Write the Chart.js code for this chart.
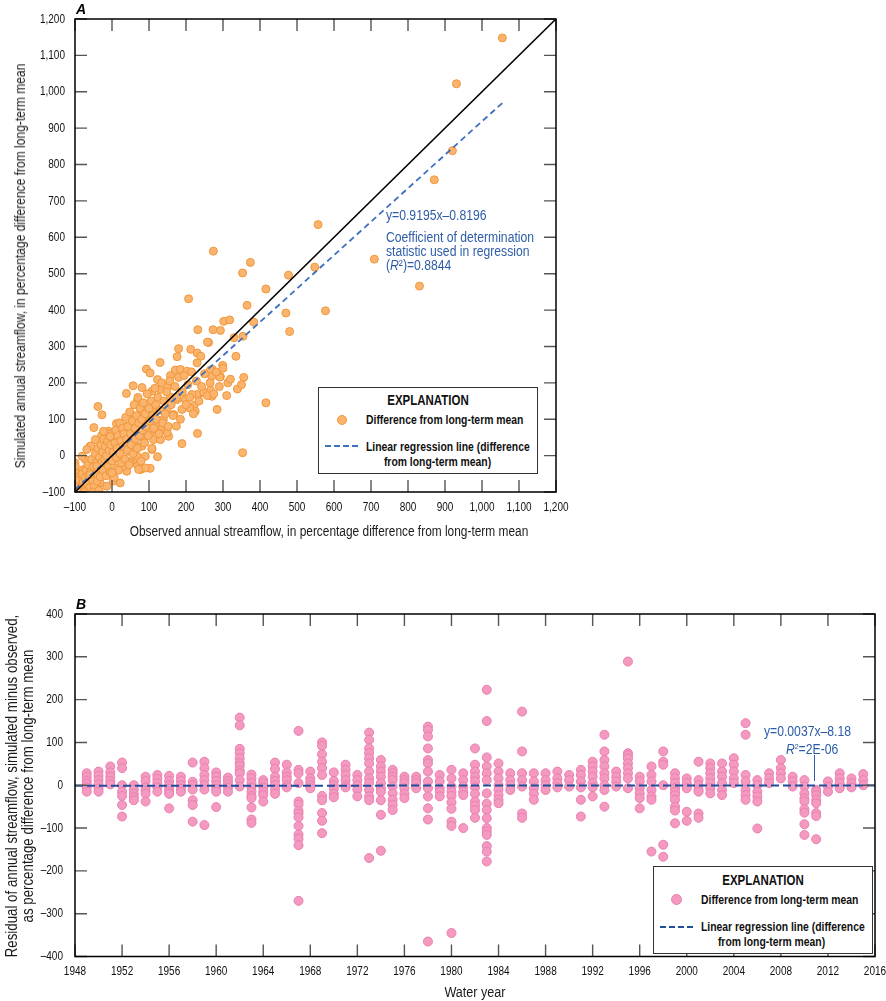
<!DOCTYPE html>
<html><head><meta charset="utf-8">
<script src="https://cdn.jsdelivr.net/npm/chart.js@4.4.1/dist/chart.umd.min.js"></script>
<style>
body{margin:0;background:#fff;}
#wrap{position:relative;width:886px;height:1001px;overflow:hidden;font-family:'Liberation Sans',Arial,sans-serif;}
canvas{position:absolute;left:0;}
.t{position:absolute;white-space:nowrap;line-height:1;color:#1a1a1a;}
.pl{position:absolute;font:bold italic 14px 'Liberation Sans',Arial,sans-serif;color:#000;}
.ann{position:absolute;color:#2E5DA8;font-size:14px;line-height:14px;white-space:nowrap;transform-origin:left center;transform:scaleX(0.87);}
.box{position:absolute;border:1.5px solid #333;background:#fff;box-sizing:border-box;}
.box div{position:absolute;white-space:nowrap;color:#111;}
.hd{font-weight:bold;font-size:14px;line-height:14px;left:0;right:0;text-align:center;transform:scaleX(0.82);}
.lt{font-weight:bold;font-size:12.5px;line-height:14px;transform-origin:left center;transform:scaleX(0.83);}
.lc{font-weight:bold;font-size:12.5px;line-height:14px;text-align:center;transform:scaleX(0.83);}
.dot{width:8px;height:8px;border-radius:50%;}
.dash{height:0;border-top:2px dashed;}
</style></head>
<body>
<div id="wrap">
  <canvas id="cA" width="886" height="560" style="top:0"></canvas>
  <canvas id="cB" width="886" height="441" style="top:560px"></canvas>

  <div class="pl" style="left:76px;top:1px">A</div>
  <div class="pl" style="left:76px;top:596px">B</div>

  <!-- axis titles -->
  <div class="t" style="left:329px;top:531px;font-size:14px;transform:translate(-50%,-50%) scaleX(0.85)">Observed annual streamflow, in percentage difference from long-term mean</div>
  <div class="t" style="left:20px;top:266px;font-size:14px;transform:translate(-50%,-50%) rotate(-90deg) scaleX(0.86)">Simulated annual streamflow, in percentage difference from long-term mean</div>
  <div class="t" style="left:475px;top:992px;font-size:14px;transform:translate(-50%,-50%) scaleX(0.9)">Water year</div>
  <div class="t" style="left:12px;top:786px;font-size:16px;transform:translate(-50%,-50%) rotate(-90deg) scaleX(0.83)">Residual of annual streamflow, simulated minus observed,</div>
  <div class="t" style="left:28px;top:786px;font-size:16px;transform:translate(-50%,-50%) rotate(-90deg) scaleX(0.83)">as percentage difference from long-term mean</div>

  <div class="ann" style="left:386px;top:208px">y=0.9195x–0.8196</div>
  <div class="ann" style="left:386px;top:230px">Coefficient of determination<br>statistic used in regression<br>(<i>R</i>²)=0.8844</div>

  <div class="box" style="left:318px;top:387px;width:220px;height:87px">
    <div class="hd" style="top:5px">EXPLANATION</div>
    <div class="dot" style="left:18px;top:27px;background:#FBB46E;border:1px solid #F0973A"></div>
    <div class="lt" style="left:47px;top:25px">Difference from long-term mean</div>
    <div class="dash" style="left:6px;top:57px;width:33px;border-color:#3F6FBF"></div>
    <div class="lt" style="left:47px;top:52px">Linear regression line (difference</div>
    <div class="lc" style="left:0;width:237px;top:67px">from long-term mean)</div>
  </div>

  <div class="ann" style="left:814px;top:724px;transform:translateX(-50%) scaleX(0.87);color:#2A5CAA">y=0.0037x–8.18</div>
  <div class="ann" style="left:816px;top:740px;transform:translateX(-50%) scaleX(0.87);color:#2A5CAA"><i>R</i><sup style="font-size:8px;vertical-align:5px">2</sup>=2E-06</div>
  <div style="position:absolute;left:814px;top:755px;width:1px;height:26px;background:#2A5CAA"></div>

  <div class="box" style="left:653px;top:866px;width:220px;height:88px">
    <div class="hd" style="top:6px">EXPLANATION</div>
    <div class="dot" style="left:17px;top:27px;width:9px;height:9px;background:#F49AC1;border:1px solid #EA7FAF"></div>
    <div class="lt" style="left:47px;top:26px">Difference from long-term mean</div>
    <div class="dash" style="left:6px;top:59px;width:33px;border-color:#1F4E9A"></div>
    <div class="lt" style="left:47px;top:53px">Linear regression line (difference</div>
    <div class="lc" style="left:0;width:235px;top:68px">from long-term mean)</div>
  </div>
</div>
<script>
// ---------- Panel A data: [observed, simulated] percentage difference from long-term mean
const pointsA = [
[1055,1148],[931,1022],[920,838],[871,758],[831,466],[709,540],[557,635],[548,518],[577,398],[274,562],
[374,531],[353,502],[477,496],[416,458],[207,431],[365,413],[470,392],[480,341],[302,369],[318,373],
[383,367],[232,346],[273,346],[293,344],[261,311],[330,324],[354,328],[335,273],[180,294],[176,272],
[213,292],[230,282],[240,273],[130,256],[93,238],[103,227],[230,255],[299,248],[271,237],[261,226],
[293,217],[356,215],[313,200],[339,183],[416,145],[284,127],[232,166],[270,163],[249,173],[231,61],
[189,33],[353,8],[123,-3],[-38,135],[-27,112],[-49,77],[57,192],[39,171],[81,187],[69,151],
[12,88],[-9,67],[-28,55],[-59,26],[103,-35],[78,-38],[68,-24],
[123,209],[108,177],[131,182],[149,189],[158,220],[171,235],[185,237],[203,232],[258,312],[266,235],
[270,218],[291,216],[266,180],[230,168],[248,174],[222,138],[225,122],[210,131],[189,127],[198,154],
[216,168],[158,161],[176,154],[149,127],[167,113],[174,81],[153,53],[149,64],[131,70],[112,44],
[103,63],[81,26],[90,-34],[72,-38],[58,-11],[40,-43],[22,-75],[3,-70],[-23,-47],[-32,-75],
[-45,-84],[-86,-79],[-95,-52],[-77,-38],[-59,-20],[-72,-11],[-57,26],[-32,8],[-14,35],[-5,17],
[14,26],[31,44],[22,63],[40,81],[58,99],[76,113],[95,127],[112,122],[95,99],[68,72],
[49,53],[4,-11],[-14,-24],[22,-2],[45,12],[63,26],[85,49],[121,90],[139,99],[126,63],
[131,44],[108,17],[90,-2],[68,-2],[49,-20],[31,-29],[14,-34],[-59,-70],[-68,-93],
[-95,-90],[-90,-80],[-88,-95],[-85,-65],[-82,-88],[-80,-50],[-78,-72],[-75,-95],[-72,-60],[-70,-40],
[-68,-78],[-65,-25],[-63,-55],[-60,-88],[-58,-45],[-55,-10],[-52,-68],[-50,-30],[-48,-85],[-45,5],
[-44,-50],[-42,-20],[-40,-70],[-38,20],[-36,-35],[-34,-5],[-32,-58],[-30,30],[-28,-20],[-26,10],
[-24,-40],[-22,45],[-20,-10],[-18,25],[-16,-55],[-15,0],[-12,40],[-10,-30],[-8,15],[-6,60],
[-5,-45],[-3,30],[0,-15],[2,50],[4,10],[6,-60],[8,35],[10,70],[12,-5],[14,20],
[16,55],[18,-40],[20,90],[22,5],[24,40],[26,-20],[28,75],[30,25],[32,60],[35,-10],
[37,105],[40,45],[42,15],[44,80],[46,-25],[48,120],[50,60],[52,30],[55,95],[57,5],
[60,140],[62,75],[64,45],[66,110],[68,20],[70,160],[72,90],[74,55],[76,130],[78,-15],
[80,100],[83,70],[85,145],[88,35],[90,115],[92,80],[95,170],[98,55],[100,130],[103,95],
[106,150],[108,20],[110,110],[113,75],[116,185],[118,140],[120,100],[124,160],[127,60],[130,125],
[134,200],[137,90],[140,150],[144,115],[148,175],[152,80],[156,205],[160,140],[165,110],[170,190],
[175,160],[180,215],[185,100],[190,175],[195,220],[200,140],[205,195],[210,160],[215,230],[220,115],
[228,205],[235,150],[242,190],[250,225],[258,165],[265,200],[275,170],[282,230],[290,190],[300,240],
[310,165],[320,210],[350,195],
[-100,-70],[-100,-40],[-98,-98],[-92,-100],[-75,-100],[-50,-100],[-35,-96],[-100,-20],
[-99,-29],[-99,-66],[-81,-2],[-68,17],[-45,44],[-23,67],[-5,53],[-41,-29],[-14,-84],[0,-47],[-59,-52]
];
const observedA = pointsA.map(p => p[0]);
const simulatedA = pointsA.map(p => p[1]);

// regression and 1:1 line definitions (panel A)
const regSlopeA = 0.9195, regInterceptA = -0.8196;
const regRangeA = [-100, 1055];
const oneToOneRange = [-100, 1200];
const ticksA = [-100,0,100,200,300,400,500,600,700,800,900,1000,1100,1200];

// ---------- Panel B data: residuals by water year
const waterYears = [1949,1950,1951,1952,1953,1954,1955,1956,1957,1958,1959,1960,1961,1962,1963,1964,1965,1966,1967,1968,1969,1970,1971,1972,1973,1974,1975,1976,1977,1978,1979,1980,1981,1982,1983,1984,1985,1986,1987,1988,1989,1990,1991,1992,1993,1994,1995,1996,1997,1998,1999,2000,2001,2002,2003,2004,2005,2006,2007,2008,2009,2010,2011,2012,2013,2014,2015];
const residuals = [
[28,20,10,3,-5,-15],
[32,22,12,2,-8,-15],
[44,30,20,10,2],
[53,40,0,-15,-25,-46,-73],
[0,-10,-20,-28,-35],
[20,10,-5,-12,-20,-38],
[24,15,5,-5,-15],
[22,10,0,-8,-15,-20,-54],
[20,10,0,-8,-15],
[53,8,0,-10,-35,-46,-85],
[55,40,24,12,0,-10,-93],
[30,20,10,0,-8,-15,-51],
[18,10,2,-5,-15],
[158,140,85,75,63,52,45,34,28,12,-3],
[25,16,5,-5,-15,-25,-30,-52,-80,-88],
[12,5,-5,-15,-23,-38],
[53,38,20,10,0,-10,-20],
[48,30,20,12,0,-5],
[127,36,28,5,-38,-45,-60,-66,-75,-95,-115,-125,-140,-270],
[32,16,8,0,-7],
[100,92,72,55,40,24,-25,-35,-65,-83,-112],
[30,10,0,-8,-20,-28],
[48,36,24,12,0,-5],
[24,12,0,-10,-26],
[123,106,86,75,63,51,32,16,5,-11,-26,-35,-170],
[59,44,32,20,5,-7,-15,-35,-69,-153],
[36,28,20,12,-3,-19,-34,-46,-58],
[20,12,5,-7,-20,-30],
[20,12,5,-7],
[137,129,114,86,59,51,32,9,-7,-26,-54,-80,-365],
[24,9,-7,-15,-26],
[36,16,-3,-15,-25,-40,-55,-85,-95,-345],
[28,12,-3,-15,-23,-100],
[86,48,32,20,9,-5,-20,-38,-48,-58,-76],
[223,150,65,44,28,12,-19,-43,-58,-77,-100,-108,-116,-142,-155,-178],
[51,32,16,0,-10,-23,-34,-42],
[28,12,0,-11],
[172,79,28,12,-3,-66,-76],
[28,9,-7,-20,-34],
[28,12,0,-11],
[32,16,5,-5],
[24,12,-3],
[36,24,9,-5,-34,-73],
[55,44,32,20,5,-5,-26],
[118,79,59,44,28,16,0,-11,-50],
[32,20,9,-3],
[289,75,70,63,51,40,28,16,-7],
[20,9,-7,-19,-30,-54],
[44,24,9,-11,-26,-34,-155],
[79,55,48,0,-139,-167],
[28,16,5,-7,-15,-23,-34,-50,-59,-89],
[16,5,-7,-62,-83],
[55,12,0,-11,-15,-66,-76],
[51,40,28,16,5,-7,-19],
[51,32,20,5,-11,-23],
[63,48,32,16,5],
[145,118,24,9,-11,-23,-34],
[12,0,-15,-26,-38,-101],
[28,16,5],
[59,40,28,16],
[20,9,-3],
[12,-3,-19,-31,-38,-56,-64,-91,-116],
[-11,-15,-23,-34,-42,-65,-72,-126],
[9,-3,-15],
[28,16,5,-7],
[16,5,-5],
[26,12,0]
];
const regSlopeB = 0.0037, regInterceptB = -8.18;
const regRangeB = [1948, 2016];
const ticksBx = [1948,1952,1956,1960,1964,1968,1972,1976,1980,1984,1988,1992,1996,2000,2004,2008,2012,2016];
const ticksBy = [-400,-300,-200,-100,0,100,200,300,400];

// ---------- helpers
Chart.defaults.font.family = "'Liberation Sans',Arial,sans-serif";
function fmt(v){ const s = Math.abs(v).toLocaleString('en-US'); return v < 0 ? '\u2013' + s : s; }

const frameTicks = {
  id: 'frameTicks',
  afterDatasetsDraw(chart){
    const {ctx, chartArea: a, scales: {x, y}} = chart;
    const L = 12;
    ctx.save();
    ctx.strokeStyle = '#555'; ctx.lineWidth = 1.4;
    x.ticks.forEach(t => {
      const p = x.getPixelForValue(t.value);
      ctx.beginPath(); ctx.moveTo(p, a.bottom); ctx.lineTo(p, a.bottom - L);
      ctx.moveTo(p, a.top); ctx.lineTo(p, a.top + L); ctx.stroke();
    });
    y.ticks.forEach(t => {
      const p = y.getPixelForValue(t.value);
      ctx.beginPath(); ctx.moveTo(a.left, p); ctx.lineTo(a.left + L, p);
      ctx.moveTo(a.right, p); ctx.lineTo(a.right - L, p); ctx.stroke();
    });
    ctx.strokeStyle = '#000'; ctx.lineWidth = 1.5;
    ctx.strokeRect(a.left, a.top, a.right - a.left, a.bottom - a.top);
    ctx.restore();
  }
};

// tick labels in a condensed look (horizontal compression of the installed sans)
function makeTickLabels(cfg){
  return {
    id: 'tickLabels',
    afterDraw(chart){
      const {ctx, chartArea: a, scales: {x, y}} = chart;
      ctx.save();
      ctx.fillStyle = '#111';
      ctx.font = "13px 'Liberation Sans', Arial, sans-serif";
      ctx.textBaseline = 'middle';
      ctx.textAlign = 'center';
      x.ticks.forEach(t => {
        ctx.save(); ctx.translate(x.getPixelForValue(t.value), a.bottom + cfg.xOff);
        ctx.scale(0.77, 1); ctx.fillText(cfg.fx(t.value), 0, 0); ctx.restore();
      });
      ctx.textAlign = 'right';
      y.ticks.forEach(t => {
        ctx.save(); ctx.translate(a.left - cfg.yOff, y.getPixelForValue(t.value));
        ctx.scale(0.77, 1); ctx.fillText(cfg.fy(t.value), 0, 0); ctx.restore();
      });
      ctx.restore();
    }
  };
}

function linScale(min, max, ticks, pos, fit){
  return {
    type: 'linear', min, max, position: pos,
    grid: {display: false, drawTicks: false},
    border: {display: false},
    ticks: {display: false},
    title: {display: false},
    afterBuildTicks: s => { s.ticks = ticks.map(v => ({value: v})); },
    afterFit: fit
  };
}

// ---------- Chart A
new Chart(document.getElementById('cA'), {
  type: 'scatter',
  data: { datasets: [
    { data: observedA.map((o, i) => ({x: o, y: simulatedA[i]})),
      pointRadius: 4, pointBackgroundColor: '#FBB46E', pointBorderColor: '#F0973A', pointBorderWidth: 1,
      order: 3, clip: 0 },
    { data: oneToOneRange.map(v => ({x: v, y: v})), showLine: true, pointRadius: 0,
      borderColor: '#000', borderWidth: 1.6, order: 1 },
    { data: regRangeA.map(v => ({x: v, y: regSlopeA * v + regInterceptA})), showLine: true, pointRadius: 0,
      borderColor: '#3F6FBF', borderWidth: 1.8, borderDash: [6, 4], order: 2 }
  ]},
  options: {
    responsive: false, animation: false, events: [],
    layout: {padding: {left: 0, top: 19, right: 330, bottom: 0}},
    plugins: {legend: {display: false}, tooltip: {enabled: false}},
    scales: {
      x: linScale(-100, 1200, ticksA, 'bottom', s => { s.height = 68; }),
      y: linScale(-100, 1200, ticksA, 'left', s => { s.width = 75; })
    }
  },
  plugins: [frameTicks, makeTickLabels({xOff: 15.5, yOff: 10, fx: fmt, fy: fmt})]
});

// ---------- Chart B
const pointsB = [];
waterYears.forEach((yr, i) => residuals[i].forEach(v => pointsB.push({x: yr, y: v})));
new Chart(document.getElementById('cB'), {
  type: 'scatter',
  data: { datasets: [
    { data: pointsB, pointRadius: 4.5, pointBackgroundColor: '#F49AC1', pointBorderColor: '#EA7FAF',
      pointBorderWidth: 1, order: 2 },
    { data: regRangeB.map(v => ({x: v, y: regSlopeB * v + regInterceptB})), showLine: true, pointRadius: 0,
      borderColor: '#1F4E9A', borderWidth: 2, borderDash: [8, 4], order: 1 }
  ]},
  options: {
    responsive: false, animation: false, events: [],
    layout: {padding: {left: 0, top: 54, right: 11, bottom: 0}},
    plugins: {legend: {display: false}, tooltip: {enabled: false}},
    scales: {
      x: linScale(1948, 2016, ticksBx, 'bottom', s => { s.height = 44.5; }),
      y: linScale(-400, 400, ticksBy, 'left', s => { s.width = 75; })
    }
  },
  plugins: [frameTicks, makeTickLabels({xOff: 15.2, yOff: 12, fx: v => String(v), fy: fmt})]
});
</script>
</body></html>
